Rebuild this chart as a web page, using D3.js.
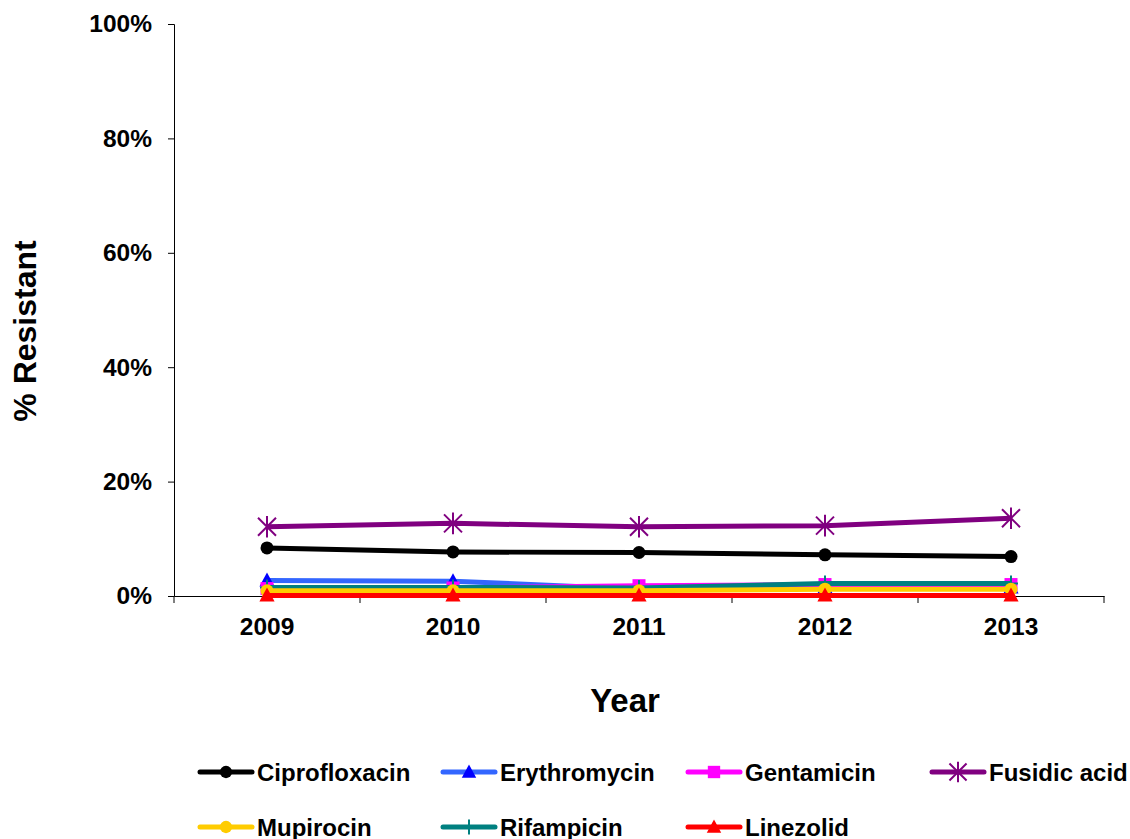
<!DOCTYPE html>
<html>
<head>
<meta charset="utf-8">
<script src="https://cdn.jsdelivr.net/npm/d3@7"></script>
<style>
  body { margin: 0; background: #fff; }
  text { font-family: "Liberation Sans", Arial, sans-serif; font-weight: bold; }
</style>
</head>
<body>
<div id="wrapper"></div>
<script>
// data
const years = ["2009", "2010", "2011", "2012", "2013"]
const yTicks = [0, 0.2, 0.4, 0.6, 0.8, 1]
const ciprofloxacin = [0.084, 0.077, 0.076, 0.072, 0.069]
const erythromycin = [0.027, 0.026, 0.012, 0.015, 0.015]
const gentamicin = [0.013, 0.014, 0.018, 0.020, 0.020]
const fusidicAcid = [0.121, 0.127, 0.121, 0.123, 0.136]
const mupirocin = [0.009, 0.009, 0.009, 0.012, 0.012]
const rifampicin = [0.015, 0.015, 0.014, 0.022, 0.022]
const linezolid = [0.001, 0.001, 0.001, 0.001, 0.001]

const series = [
  { name: "Ciprofloxacin", values: ciprofloxacin, color: "#000000", marker: "circle", markerColor: "#000000" },
  { name: "Erythromycin", values: erythromycin, color: "#3366ff", marker: "triangle", markerColor: "#0000ff" },
  { name: "Gentamicin", values: gentamicin, color: "#ff00ff", marker: "square", markerColor: "#ff00ff" },
  { name: "Fusidic acid", values: fusidicAcid, color: "#800080", marker: "star", markerColor: "#800080" },
  { name: "Mupirocin", values: mupirocin, color: "#ffcc00", marker: "circle", markerColor: "#ffcc00" },
  { name: "Rifampicin", values: rifampicin, color: "#008080", marker: "plus", markerColor: "#008080" },
  { name: "Linezolid", values: linezolid, color: "#ff0000", marker: "triangle", markerColor: "#ff0000" },
]

const dimensions = {
  width: 1130,
  height: 839,
  margin: { top: 24, right: 26, bottom: 243, left: 174 },
}
dimensions.boundedWidth = dimensions.width - dimensions.margin.left - dimensions.margin.right
dimensions.boundedHeight = dimensions.height - dimensions.margin.top - dimensions.margin.bottom

const wrapper = d3.select("#wrapper")
  .append("svg")
    .attr("width", dimensions.width)
    .attr("height", dimensions.height)

const bounds = wrapper.append("g")
    .attr("transform", `translate(${dimensions.margin.left},${dimensions.margin.top})`)

// scales
const xScale = d3.scaleBand()
  .domain(years)
  .range([0, dimensions.boundedWidth])

const yScale = d3.scaleLinear()
  .domain([0, 1])
  .range([dimensions.boundedHeight, 0])

const xPos = (d, i) => xScale(years[i]) + xScale.bandwidth() / 2

// axes
const yAxis = bounds.append("g")
  .call(d3.axisLeft(yScale).tickValues(yTicks).tickFormat(d3.format(".0%")).tickSize(6).tickPadding(16))
yAxis.selectAll("text").style("font-size", "24.5px").attr("fill", "#000")
yAxis.selectAll("line, path").attr("stroke", "#000")

const xAxis = bounds.append("g")
  .attr("transform", `translate(0,${dimensions.boundedHeight})`)
  .call(d3.axisBottom(xScale).tickSize(0).tickPadding(22))
xAxis.selectAll("text").style("font-size", "24.5px").attr("fill", "#000")
xAxis.select("path").attr("stroke", "#000")
// category separator ticks
xAxis.selectAll(".sep")
  .data(d3.range(years.length + 1))
  .join("line")
    .attr("x1", i => i * xScale.bandwidth())
    .attr("x2", i => i * xScale.bandwidth())
    .attr("y1", 0)
    .attr("y2", 7)
    .attr("stroke", "#000")

// axis titles
wrapper.append("text")
  .attr("transform", `translate(36,331) rotate(-90)`)
  .attr("text-anchor", "middle")
  .style("font-size", "32px")
  .text("% Resistant")

wrapper.append("text")
  .attr("x", 625)
  .attr("y", 712)
  .attr("text-anchor", "middle")
  .style("font-size", "33px")
  .text("Year")

// markers
function drawMarker(g, type, color, s) {
  if (type === "circle") {
    g.append("circle").attr("r", 6.5 * s).attr("fill", color)
  } else if (type === "triangle") {
    const r = 8 * s
    g.append("path").attr("d", `M0,${-r} L${r * 0.95},${r * 0.75} L${-r * 0.95},${r * 0.75} Z`).attr("fill", color)
  } else if (type === "square") {
    g.append("rect").attr("x", -6.5 * s).attr("y", -6.5 * s).attr("width", 13 * s).attr("height", 13 * s).attr("fill", color)
  } else if (type === "plus") {
    g.append("path").attr("d", `M${-7 * s},0 H${7 * s} M0,${-8 * s} V${8 * s}`).attr("stroke", color).attr("stroke-width", 2)
  } else if (type === "star") {
    const r = 9 * s
    g.append("path")
      .attr("d", `M${-r},${-r} L${r},${r} M${-r},${r} L${r},${-r} M0,${-r * 1.2} V${r * 1.2}`)
      .attr("stroke", color).attr("stroke-width", 2)
  }
}

// lines
const lineGenerator = d3.line()
  .x(xPos)
  .y(d => yScale(d))

const drawOrder = ["Fusidic acid", "Ciprofloxacin", "Erythromycin", "Gentamicin", "Rifampicin", "Mupirocin", "Linezolid"]
drawOrder.forEach(name => {
  const s = series.find(d => d.name === name)
  bounds.append("path")
    .attr("d", lineGenerator(s.values))
    .attr("fill", "none")
    .attr("stroke", s.color)
    .attr("stroke-width", 5)
    .attr("stroke-linejoin", "round")
  s.values.forEach((v, i) => {
    const g = bounds.append("g").attr("transform", `translate(${xPos(v, i)},${yScale(v)})`)
    drawMarker(g, s.marker, s.markerColor, 1)
  })
})

// legend
const legendCols = [200, 443, 688, 932]
const legendRows = [772, 827]
series.forEach((s, i) => {
  const col = i < 4 ? i : i - 4
  const row = i < 4 ? 0 : 1
  const g = wrapper.append("g")
    .attr("transform", `translate(${legendCols[col]},${legendRows[row]})`)
  g.append("line")
    .attr("x1", 0).attr("x2", 52)
    .attr("stroke", s.color).attr("stroke-width", 5).attr("stroke-linecap", "round")
  const m = g.append("g").attr("transform", "translate(26,0)")
  drawMarker(m, s.marker, s.markerColor, 0.95)
  g.append("text")
    .attr("x", 57)
    .attr("y", 8.5)
    .style("font-size", "24px")
    .text(s.name)
})
</script>
</body>
</html>
